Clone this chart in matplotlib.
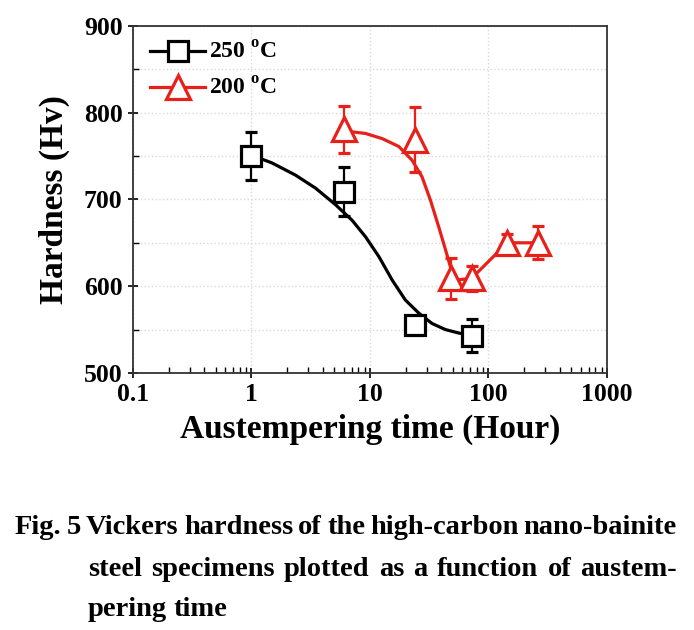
import numpy as np
import matplotlib.pyplot as plt
from matplotlib.lines import Line2D

# Measured hardness, 250 C
t_250 = [1, 6, 24, 72]
hv_250 = [750, 709, 555, 543]
err_250 = [28, 28, 5, 19]

# Measured hardness, 200 C
t_200 = [6, 24, 48, 72, 144, 264]
hv_200 = [781, 769, 609, 609, 650, 650]
err_200 = [27, 37, 24, 14, 10, 19]

# Trend curves
fit_t_250 = [1.0, 1.49, 2.35, 3.47, 5.11, 7.06, 9.16, 11.9, 15.4, 19.9, 25.8, 33.4, 43.3, 56.1, 68.2, 72]
fit_hv_250 = [751, 742, 728, 713, 694, 676, 657, 634, 607, 584, 569, 557, 550, 546, 544, 543]
fit_t_200 = [6.0, 9.16, 12.7, 17.5, 22.7, 27.5, 32.4, 38.1, 43.4, 47.8, 52.6, 72, 144, 264]
fit_hv_200 = [779, 776, 770, 761, 745, 726, 699, 668, 642, 622, 607, 609, 650, 650]

plt.rcParams['font.family'] = 'Liberation Serif'
plt.rcParams['font.weight'] = 'bold'
plt.rcParams['mathtext.fontset'] = 'custom'
plt.rcParams['mathtext.rm'] = 'Liberation Serif:bold'

fig = plt.figure(figsize=(6.94, 6.30), dpi=100)
ax = fig.add_axes([0.1916, 0.408, 0.683, 0.551])

ax.plot(fit_t_250, fit_hv_250, color='black', lw=2.3, zorder=2)
ax.plot(fit_t_200, fit_hv_200, color='#e8201a', lw=2.3, zorder=2)

ax.errorbar(t_250, hv_250, yerr=err_250, fmt='s', color='black', mfc='white',
            mec='black', ms=14, mew=2.3, elinewidth=1.6, capsize=4.5, capthick=1.6, zorder=3)
ax.errorbar(t_200, hv_200, yerr=err_200, fmt='^', color='#e8201a', mfc='white',
            mec='#e8201a', ms=17, mew=2.3, elinewidth=1.6, capsize=4.5, capthick=1.6, zorder=3)

ax.set_xscale('log')
ax.set_xlim(0.1, 1000)
ax.set_ylim(500, 900)
ax.set_xticks([0.1, 1, 10, 100, 1000])
ax.set_xticklabels(['0.1', '1', '10', '100', '1000'])
ax.set_yticks([500, 600, 700, 800, 900])
ax.set_yticks([550, 650, 750, 850], minor=True)

ax.grid(True, which='major', color='#dadada', ls=':', lw=1.0)
ax.grid(True, which='minor', axis='y', color='#dadada', ls=':', lw=1.0)
ax.set_axisbelow(True)

ax.tick_params(axis='both', which='major', direction='inout', length=7, width=1.2,
               labelsize=18.5, pad=4)
ax.tick_params(axis='both', which='minor', direction='in', length=4, width=1.0)
ax.tick_params(top=False, right=False, which='both')
for s in ax.spines.values():
    s.set_linewidth(1.3)
    s.set_color('#333333')

ax.set_xlabel('Austempering time (Hour)', fontsize=24, fontweight='bold', labelpad=5)
ax.set_ylabel('Hardness (Hv)', fontsize=24, fontweight='bold', labelpad=10)

handles = [
    Line2D([], [], color='black', lw=2.3, marker='s', ms=14, mfc='white', mew=2.3),
    Line2D([], [], color='#e8201a', lw=2.3, marker='^', ms=17, mfc='white', mew=2.3),
]
ax.legend(handles, ['250 $^{\\mathregular{o}}$C', '200 $^{\\mathregular{o}}$C'],
          loc='upper left', frameon=False, fontsize=17, handlelength=2.3,
          handletextpad=0.2, labelspacing=0.6, borderaxespad=0.2,
          bbox_to_anchor=(0.007, 0.995))

# Caption, justified by hand
caption = [
    ('Fig. 5 Vickers hardness of the high-carbon nano-bainite', 15, 677, 528, True),
    ('steel specimens plotted as a function of austem-', 88, 677, 570, True),
    ('pering time', 88, 677, 609, False),
]
W, H = 694, 630
fig.canvas.draw()
renderer = fig.canvas.get_renderer()

# pick the largest size at which the first line fits with 5 px word gaps
first = caption[0][0].split(' ')
size = 22.0
while size > 10:
    probe = [fig.text(0, 0, w, fontsize=size, fontweight='bold') for w in first]
    total = sum(t.get_window_extent(renderer).width for t in probe) + 5 * (len(first) - 1)
    for t in probe:
        t.remove()
    if total <= caption[0][2] - caption[0][1]:
        break
    size -= 0.25

for line, x0, x1, y, justify in caption:
    words = line.split(' ')
    texts = [fig.text(0, 1 - y / H, w, fontsize=size, fontweight='bold',
                      va='center', ha='left') for w in words]
    widths = [t.get_window_extent(renderer).width for t in texts]
    if justify and len(words) > 1:
        gap = (x1 - x0 - sum(widths)) / (len(words) - 1)
    else:
        gap = 6
    x = x0
    for t, w in zip(texts, widths):
        t.set_x(x / W)
        x += w + gap

fig.savefig('out.png', dpi=100)
